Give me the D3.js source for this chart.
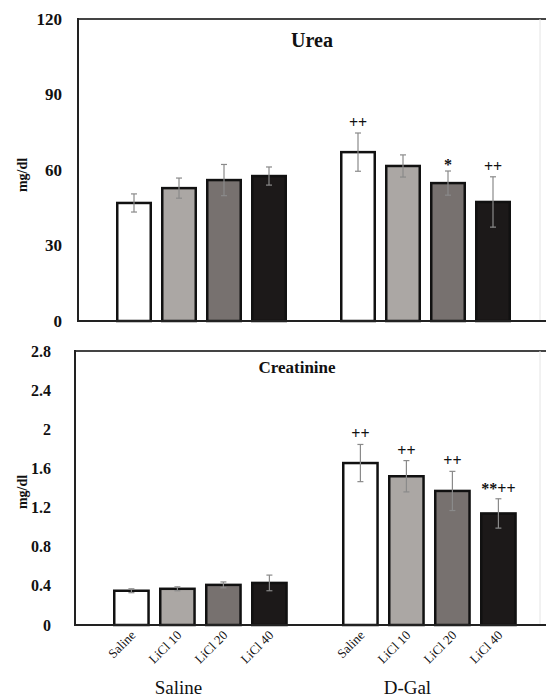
<!DOCTYPE html>
<html>
<head>
<meta charset="utf-8">
<script src="https://cdn.jsdelivr.net/npm/d3@7"></script>
<style>
  body { margin: 0; background: #fff; }
  svg { display: block; }
  text { font-family: "Liberation Serif", "Times New Roman", serif; fill: #111; }
  .tick text { font-weight: bold; fill: #111; }
</style>
</head>
<body>
<div id="chart"></div>
<script>
// data
const groups = ['Saline', 'D-Gal'];
const treatments = ['Saline', 'LiCl 10', 'LiCl 20', 'LiCl 40'];
const fills = ['#ffffff', '#aba7a4', '#77716f', '#1c1919'];

const ureaMean = [46.9, 52.8, 56.0, 57.6, 67.1, 61.6, 54.8, 47.3];
const ureaErr = [3.6, 4.0, 6.2, 3.6, 7.6, 4.4, 4.8, 10.0];
const ureaSig = ['', '', '', '', '++', '', '*', '++'];
const ureaTicks = [0, 30, 60, 90, 120];

const creatMean = [0.35, 0.37, 0.41, 0.43, 1.655, 1.52, 1.37, 1.14];
const creatErr = [0.02, 0.02, 0.03, 0.08, 0.19, 0.16, 0.20, 0.15];
const creatSig = ['', '', '', '', '++', '++', '++', '**++'];
const creatTicks = [0, 0.4, 0.8, 1.2, 1.6, 2, 2.4, 2.8];

const W = 546, H = 698;
const svg = d3.select('#chart').append('svg')
  .attr('width', W)
  .attr('height', H);

function rows(mean, err, sig) {
  const out = [];
  groups.forEach((g, gi) => {
    treatments.forEach((t, ti) => {
      const i = gi * treatments.length + ti;
      out.push({ group: g, treat: t, ti: ti, value: mean[i], err: err[i], sig: sig[i] });
    });
  });
  return out;
}

function panel(cfg) {
  const g = svg.append('g');
  const y = d3.scaleLinear().domain(cfg.domain).range([cfg.bottom, cfg.top]);
  const x0 = d3.scaleBand().domain(groups).range(cfg.xRange);
  const x1 = d3.scaleBand().domain(treatments).range([0, cfg.innerW]).paddingInner(0.2);
  const off = (x0.bandwidth() - cfg.innerW) / 2;
  const bx = d => x0(d.group) + off + x1(d.treat);

  // frame
  g.append('line').attr('x1', cfg.left).attr('x2', W).attr('y1', cfg.top).attr('y2', cfg.top)
    .attr('stroke', '#444').attr('stroke-width', 2);
  g.append('line').attr('x1', 540).attr('x2', 540).attr('y1', cfg.top).attr('y2', cfg.bottom)
    .attr('stroke', '#e4e4e4').attr('stroke-width', 1);

  // y axis
  const yAxis = g.append('g')
    .attr('transform', `translate(${cfg.left},0)`)
    .call(d3.axisLeft(y).tickValues(cfg.ticks).tickSize(0).tickPadding(cfg.pad)
      .tickFormat(d3.format('~g')));
  yAxis.select('.domain').remove();
  yAxis.selectAll('text').style('font-size', cfg.tickFont + 'px');

  const data = rows(cfg.mean, cfg.err, cfg.sig);

  // bars
  g.selectAll('rect.bar').data(data).enter().append('rect')
    .attr('class', 'bar')
    .attr('x', d => bx(d) + 1.25)
    .attr('width', x1.bandwidth() - 2.5)
    .attr('y', d => y(d.value))
    .attr('height', d => y(0) - y(d.value))
    .attr('fill', d => fills[d.ti])
    .attr('stroke', '#111')
    .attr('stroke-width', 2.5);

  // error bars
  const eb = g.selectAll('g.err').data(data).enter().append('g')
    .attr('class', 'err')
    .attr('stroke', '#8a8a8a')
    .attr('stroke-width', 1.2);
  const cx = d => bx(d) + x1.bandwidth() / 2;
  eb.append('line')
    .attr('x1', cx).attr('x2', cx)
    .attr('y1', d => y(d.value - d.err)).attr('y2', d => y(d.value + d.err));
  eb.append('line')
    .attr('x1', d => cx(d) - 3).attr('x2', d => cx(d) + 3)
    .attr('y1', d => y(d.value + d.err)).attr('y2', d => y(d.value + d.err));
  eb.append('line')
    .attr('x1', d => cx(d) - 3).attr('x2', d => cx(d) + 3)
    .attr('y1', d => y(d.value - d.err)).attr('y2', d => y(d.value - d.err));

  // significance marks
  g.selectAll('text.sig').data(data.filter(d => d.sig)).enter().append('text')
    .attr('class', 'sig')
    .attr('x', d => cx(d))
    .attr('y', d => y(d.value + d.err) - (d.sig === '*' ? 1 : 5))
    .attr('text-anchor', 'middle')
    .style('font-size', '16px')
    .style('font-weight', 'bold')
    .style('fill', '#111')
    .text(d => d.sig);

  // axis lines
  g.append('line').attr('x1', cfg.left).attr('x2', cfg.left).attr('y1', cfg.top - 1).attr('y2', cfg.bottom + 1)
    .attr('stroke', '#222').attr('stroke-width', 2);
  g.append('line').attr('x1', cfg.left).attr('x2', W).attr('y1', cfg.bottom).attr('y2', cfg.bottom)
    .attr('stroke', '#222').attr('stroke-width', 2);

  // title
  g.append('text')
    .attr('x', cfg.titleX).attr('y', cfg.titleY)
    .attr('text-anchor', 'middle')
    .style('font-size', cfg.titleFont + 'px')
    .style('font-weight', 'bold')
    .text(cfg.title);

  // y label
  g.append('text')
    .attr('transform', `translate(${cfg.ylabX},${cfg.ylabY}) rotate(-90)`)
    .attr('text-anchor', 'middle')
    .style('font-size', '14px')
    .style('font-weight', 'bold')
    .text('mg/dl');

  if (cfg.xLabels) {
    g.selectAll('text.cat').data(data).enter().append('text')
      .attr('class', 'cat')
      .attr('transform', d => `translate(${cx(d) + 5},${cfg.bottom + 11}) rotate(-45)`)
      .attr('text-anchor', 'end')
      .style('font-size', '13px')
      .text(d => d.treat);
    g.selectAll('text.grp').data(groups).enter().append('text')
      .attr('class', 'grp')
      .attr('x', d => x0(d) + x0.bandwidth() / 2 - 22)
      .attr('y', 694)
      .attr('text-anchor', 'middle')
      .style('font-size', '19px')
      .text(d => d);
  }
}

panel({
  domain: [0, 120], ticks: ureaTicks, top: 19, bottom: 321, left: 78,
  xRange: [89.5, 537.5], innerW: 171, pad: 16, tickFont: 17,
  mean: ureaMean, err: ureaErr, sig: ureaSig,
  title: 'Urea', titleX: 312, titleY: 47, titleFont: 20,
  ylabX: 27, ylabY: 175, xLabels: false
});

panel({
  domain: [0, 2.8], ticks: creatTicks, top: 351, bottom: 625, left: 75,
  xRange: [85.9, 543.9], innerW: 174.8, pad: 24, tickFont: 16,
  mean: creatMean, err: creatErr, sig: creatSig,
  title: 'Creatinine', titleX: 297, titleY: 373, titleFont: 17,
  ylabX: 27, ylabY: 492, xLabels: true
});
</script>
</body>
</html>
